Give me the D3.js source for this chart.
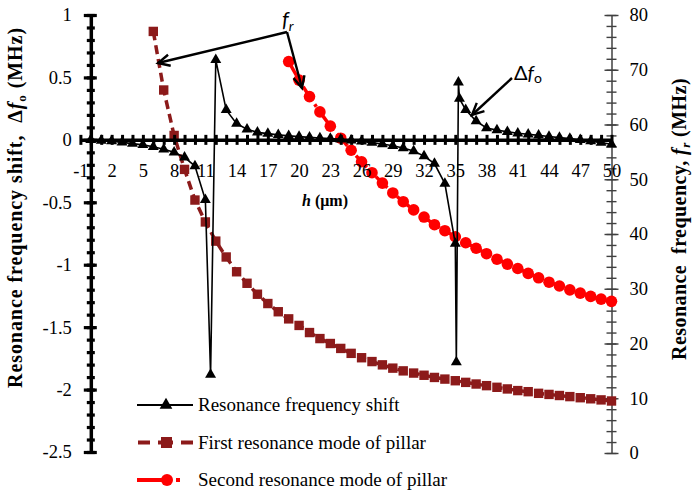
<!DOCTYPE html>
<html><head><meta charset="utf-8">
<script src="https://cdn.jsdelivr.net/npm/d3@7"></script>
<style>body{margin:0;background:#fff} svg{display:block} text{white-space:pre}</style>
</head><body><svg id="c" width="692" height="497"></svg>
<script>
// ---------- data ----------
const shiftH = [0,1,2,3,4,5,6,7,8,9,10,11,11.5,12,13,14,15,16,17,18,19,20,21,22,23,24,25,26,27,28,29,30,31,32,33,34,35,35.1,35.3,35.4,36,37,38,39,40,41,42,43,44,45,46,47,48,49,50];
const shiftVals = [0,-0.005,-0.01,-0.02,-0.03,-0.04,-0.055,-0.075,-0.1,-0.14,-0.21,-0.48,-1.88,0.64,0.24,0.13,0.085,0.06,0.05,0.04,0.032,0.026,0.02,0.015,0.01,0.004,-0.003,-0.012,-0.022,-0.033,-0.047,-0.065,-0.09,-0.13,-0.19,-0.35,-0.83,-1.78,0.46,0.33,0.24,0.15,0.095,0.078,0.065,0.053,0.045,0.036,0.027,0.018,0.01,0.0,-0.01,-0.022,-0.035];
const mode1H = [6,7,8,9,10,11,12,13,14,15,16,17,18,19,20,21,22,23,24,25,26,27,28,29,30,31,32,33,34,35,36,37,38,39,40,41,42,43,44,45,46,47,48,49,50];
const mode1Vals = [77.0,66.3,58.0,51.8,46.2,42.2,38.7,35.8,33.1,31.0,29.0,27.3,25.8,24.5,23.3,22.0,20.9,20.0,19.1,18.2,17.4,16.7,16.1,15.5,15.0,14.6,14.2,13.8,13.5,13.2,12.9,12.6,12.3,12.0,11.7,11.4,11.2,10.9,10.7,10.5,10.3,10.1,9.9,9.7,9.5];
const mode2H = [19,20,21,22,23,24,25,26,27,28,29,30,31,32,33,34,35,36,37,38,39,40,41,42,43,44,45,46,47,48,49,50];
const mode2Vals = [71.5,68.1,65.1,62.3,59.7,57.5,55.3,53.2,51.2,49.3,47.5,45.9,44.4,43.1,41.7,40.6,39.5,38.4,37.4,36.4,35.4,34.5,33.7,32.8,32.0,31.2,30.5,29.8,29.2,28.6,28.1,27.7];
const xTickLabels = [-1,2,5,8,11,14,17,20,23,26,29,32,35,38,41,44,47,50];
const leftTicks = [1,0.5,0,-0.5,-1,-1.5,-2,-2.5];
const rightTicks = [0,10,20,30,40,50,60,70,80];
const legendLabels = ["Resonance frequency shift","First resonance mode of pillar","Second resonance mode of pillar"];

// ---------- setup ----------
const svg = d3.select("#c");
const SERIF = '"Liberation Serif"';
const x = d3.scaleLinear().domain([-1,50]).range([80.4,611.5]);
const yL = d3.scaleLinear().domain([-2.5,1]).range([452,15]);
const yR = d3.scaleLinear().domain([0,80]).range([453,15]);
const darkRed = "#8C1A1A", red = "#FF0000";
function serifText(sel, size){
  return sel.style("font-family",SERIF).attr("font-size",size).attr("fill","#000");
}
function fitLength(sel, target){
  const n = sel.node(); const len = n.getComputedTextLength();
  const chars = n.textContent.length;
  if (chars > 1) sel.attr("letter-spacing", ((target-len)/chars).toFixed(3));
}

// ---------- right axis ----------
const gRm = svg.append("g").attr("transform",`translate(${x(50)},0)`)
  .call(d3.axisRight(yR).tickValues(d3.range(0,80.01,2)).tickSize(5).tickSizeOuter(0).tickFormat(""));
gRm.selectAll(".tick line").attr("x1",-5).attr("stroke","#404040").attr("stroke-width",1.4);
gRm.select(".domain").attr("stroke","#404040").attr("stroke-width",1.5);
const gR = svg.append("g").attr("transform",`translate(${x(50)},0)`)
  .call(d3.axisRight(yR).tickValues(rightTicks).tickSize(7).tickSizeOuter(0).tickPadding(11).tickFormat(d=>String(d)));
gR.select(".domain").remove();
gR.selectAll(".tick line").attr("x1",-7).attr("stroke","#404040").attr("stroke-width",1.4);
serifText(gR.selectAll("text"),18.5);

// ---------- series lines ----------
const lineL = d3.line().x((d,i)=>x(shiftH[i])).y(d=>yL(d));
const line1 = d3.line().x((d,i)=>x(mode1H[i])).y(d=>yR(d));
const line2 = d3.line().x((d,i)=>x(mode2H[i])).y(d=>yR(d));

svg.append("path").datum(mode1Vals).attr("d",line1).attr("fill","none")
  .attr("stroke",darkRed).attr("stroke-width",3.5).attr("stroke-dasharray","9,5");
svg.selectAll("rect.sq").data(mode1Vals).join("rect").attr("class","sq")
  .attr("x",(d,i)=>x(mode1H[i])-4.7).attr("y",d=>yR(d)-4.7)
  .attr("width",9.4).attr("height",9.4).attr("fill",darkRed);

svg.append("path").datum(mode2Vals).attr("d",line2).attr("fill","none")
  .attr("stroke",red).attr("stroke-width",3.5).attr("stroke-dasharray","16,5,3,5");
svg.selectAll("circle.ci").data(mode2Vals).join("circle").attr("class","ci")
  .attr("cx",(d,i)=>x(mode2H[i])).attr("cy",d=>yR(d)).attr("r",5.8).attr("fill",red);

// ---------- x axis (through left-axis zero) ----------
const gX = svg.append("g").attr("transform",`translate(0,${yL(0)})`)
  .call(d3.axisBottom(x).tickValues(d3.range(-1,51)).tickSize(5).tickSizeOuter(0).tickFormat(""));
gX.selectAll(".tick line").attr("y1",-5).attr("stroke","#000").attr("stroke-width",3);
gX.select(".domain").attr("stroke","#000").attr("stroke-width",3.5);
const gXl = svg.append("g").attr("transform",`translate(0,${yL(0)})`)
  .call(d3.axisBottom(x).tickValues(xTickLabels).tickSize(0).tickPadding(24).tickFormat(d=>String(d)));
gXl.select(".domain").remove();
serifText(gXl.selectAll("text"),18.5);

// ---------- left axis ----------
const gLm = svg.append("g").attr("transform",`translate(${x(0)},0)`)
  .call(d3.axisLeft(yL).tickValues(d3.range(-25,11).map(v=>v/10)).tickSize(4).tickSizeOuter(0).tickFormat(""));
gLm.selectAll(".tick line").attr("x1",4).attr("stroke","#000").attr("stroke-width",3.2);
gLm.select(".domain").attr("stroke","#000").attr("stroke-width",3.5);
const gL = svg.append("g").attr("transform",`translate(${x(0)},0)`)
  .call(d3.axisLeft(yL).tickValues(leftTicks).tickSize(7).tickSizeOuter(0).tickPadding(12).tickFormat(d=>String(d)));
gL.select(".domain").remove();
gL.selectAll(".tick line").attr("x1",6).attr("stroke","#000").attr("stroke-width",3.2);
serifText(gL.selectAll("text"),18.5);

// ---------- shift series ----------
svg.append("path").datum(shiftVals).attr("d",lineL).attr("fill","none")
  .attr("stroke","#000").attr("stroke-width",1.6);
const tri = d3.symbol().type(d3.symbolTriangle).size(52);
svg.selectAll("path.tr").data(shiftVals).join("path").attr("class","tr")
  .attr("d",tri).attr("transform",(d,i)=>`translate(${x(shiftH[i])},${yL(d)})`).attr("fill","#000");

// ---------- axis titles ----------
const lt = serifText(svg.append("text"),20).attr("transform","translate(22,207.5) rotate(-90)")
  .attr("text-anchor","middle").attr("font-weight","bold");
lt.append("tspan").text("Resonance frequency shift,  Δ");
lt.append("tspan").attr("font-style","italic").text("f");
lt.append("tspan").attr("font-size",13).attr("dy",4).text("o");
lt.append("tspan").attr("dy",-4).text(" (MHz)");
fitLength(lt, 361);

const rt = serifText(svg.append("text"),20).attr("transform","translate(686,219) rotate(-90)")
  .attr("text-anchor","middle").attr("font-weight","bold");
rt.append("tspan").text("Resonance  frequency, ");
rt.append("tspan").attr("font-style","italic").text("f");
rt.append("tspan").attr("font-style","italic").attr("font-size",13).attr("dy",4).text("r");
rt.append("tspan").attr("dy",-4).text(" (MHz)");
fitLength(rt, 282);

const hx = serifText(svg.append("text"),16).attr("x",302).attr("y",206).attr("font-weight","bold");
hx.append("tspan").attr("font-style","italic").text("h");
hx.append("tspan").text(" (μm)");

// ---------- annotations ----------
function arrow(x1,y1,x2,y2){
  const a = Math.atan2(y2-y1,x2-x1), L=13, w=0.45;
  const g = svg.append("g").attr("stroke","#000").attr("stroke-width",2.4).attr("fill","none");
  g.append("line").attr("x1",x1).attr("y1",y1).attr("x2",x2).attr("y2",y2);
  g.append("path").attr("d",`M${x2-L*Math.cos(a-w)},${y2-L*Math.sin(a-w)}L${x2},${y2}L${x2-L*Math.cos(a+w)},${y2-L*Math.sin(a+w)}`);
}
arrow(287,32,158,63);
arrow(287,32,302,88);
arrow(512,78,472,115);

const SANS = 'Lato';
const fr = svg.append("text").attr("x",282).attr("y",27).style("font-family",SANS).attr("font-size",21);
fr.append("tspan").attr("font-style","italic").text("f");
fr.append("tspan").attr("font-style","italic").attr("font-size",14).attr("dy",4).text("r");
const df = svg.append("text").attr("x",514).attr("y",80).style("font-family",SANS).attr("font-size",20);
df.append("tspan").text("Δ");
df.append("tspan").attr("font-style","italic").text("f");
df.append("tspan").attr("font-size",14).attr("dy",3).text("o");

// ---------- legend ----------
const lg = svg.append("g");
const rows = [405,442.5,480];
lg.append("line").attr("x1",137).attr("x2",193).attr("y1",rows[0]).attr("y2",rows[0]).attr("stroke","#000").attr("stroke-width",1.8);
lg.append("path").attr("d",d3.symbol().type(d3.symbolTriangle).size(70)).attr("transform",`translate(166,${rows[0]})`).attr("fill","#000");
lg.append("line").attr("x1",138).attr("x2",193).attr("y1",rows[1]).attr("y2",rows[1]).attr("stroke",darkRed).attr("stroke-width",4).attr("stroke-dasharray","12,8,15,8,12");
lg.append("rect").attr("x",161).attr("y",rows[1]-5.5).attr("width",11).attr("height",11).attr("fill",darkRed);
lg.append("line").attr("x1",137).attr("x2",162).attr("y1",rows[2]).attr("y2",rows[2]).attr("stroke",red).attr("stroke-width",4);
lg.append("line").attr("x1",176).attr("x2",180).attr("y1",rows[2]).attr("y2",rows[2]).attr("stroke",red).attr("stroke-width",4);
lg.append("circle").attr("cx",167).attr("cy",rows[2]).attr("r",6).attr("fill",red);
serifText(lg.selectAll("text").data(legendLabels).join("text"),19)
  .attr("x",198).attr("y",(d,i)=>rows[i]).attr("dy","0.33em").text(d=>d);
</script></body></html>
